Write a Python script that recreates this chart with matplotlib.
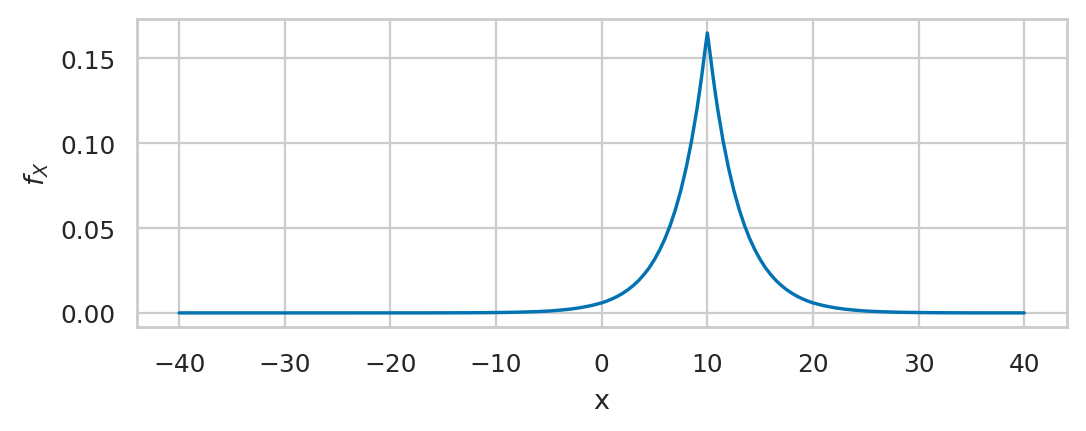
import numpy as np
import matplotlib.pyplot as plt
import seaborn as sns

sns.set_theme(style='whitegrid', palette='colorblind')

# density values (x position, height)
x_vals = [-40, -30, -25, -20, -17, -14, -12, -10, -8, -6, -5, -4, -3, -2, -1,
          0, 0.5, 1, 1.5, 2, 2.5, 3, 3.5, 4, 4.5, 5, 5.5, 6, 6.5, 7, 7.5, 8, 8.5,
          9, 9.25, 9.5, 9.75, 10,
          10.25, 10.5, 10.75, 11, 11.5, 12, 12.5, 13, 13.5, 14, 14.5, 15, 15.5,
          16, 16.5, 17, 17.5, 18, 18.5, 19, 19.5, 20,
          21, 22, 23, 24, 25, 26, 28, 30, 32, 35, 40]
fx_vals = [0.0, 0.0, 0.0, 0.00001, 0.00002, 0.00006, 0.0001, 0.0002, 0.0004, 0.0008,
           0.0011, 0.0016, 0.0022, 0.0031, 0.0043,
           0.0059, 0.0070, 0.0083, 0.0098, 0.0116, 0.0137, 0.0162, 0.0191, 0.0226,
           0.0266, 0.0315, 0.0372, 0.0439, 0.0519, 0.0613, 0.0724, 0.0856, 0.1011,
           0.1194, 0.1298, 0.1411, 0.1534, 0.1650,
           0.1534, 0.1411, 0.1298, 0.1194, 0.1011, 0.0856, 0.0724, 0.0613, 0.0519,
           0.0439, 0.0372, 0.0315, 0.0266, 0.0226, 0.0191, 0.0162, 0.0137, 0.0116,
           0.0098, 0.0083, 0.0070, 0.0059,
           0.0043, 0.0031, 0.0022, 0.0016, 0.0011, 0.0008, 0.0004, 0.0002, 0.0001,
           0.00003, 0.00001]

fig, ax = plt.subplots(figsize=(6.663, 2.650), dpi=163)
fig.subplots_adjust(left=0.126, right=0.982, top=0.954, bottom=0.241)

ax.plot(x_vals, fx_vals)

ax.set_xlabel('x', labelpad=5.0)
ax.set_ylabel('$f_X$')
ax.set_xticks([-40, -30, -20, -10, 0, 10, 20, 30, 40])
ax.set_yticks([0.0, 0.05, 0.10, 0.15])

# nudge x tick labels down a little
ax.tick_params(axis='x', pad=plt.rcParams['xtick.major.pad'] + 1.8)

plt.savefig('out.png', dpi=163)
